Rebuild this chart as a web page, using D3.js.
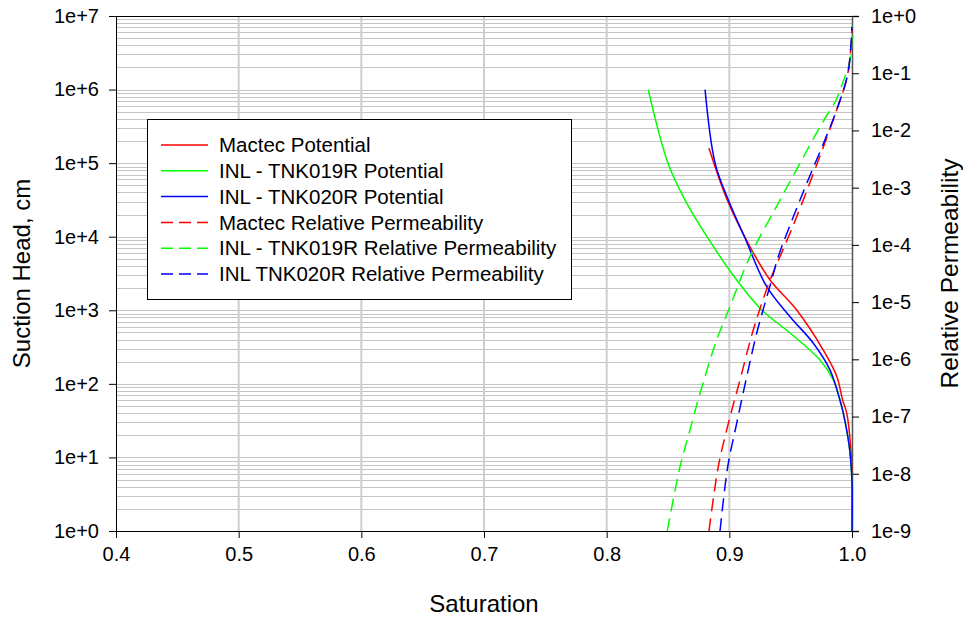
<!DOCTYPE html>
<html>
<head>
<meta charset="utf-8">
<script src="https://cdn.jsdelivr.net/npm/d3@7"></script>
<style>
  html, body { margin: 0; padding: 0; background: #fff; }
  svg { display: block; font-family: "Liberation Sans", Arial, sans-serif; }
</style>
</head>
<body>
<svg id="chart" width="963" height="619"></svg>
<script>
// ---------------- data ----------------
const xTicks = [0.4, 0.5, 0.6, 0.7, 0.8, 0.9, 1.0];
const leftTicks = [1e0, 1e1, 1e2, 1e3, 1e4, 1e5, 1e6, 1e7];
const leftTickLabels = ["1e+0", "1e+1", "1e+2", "1e+3", "1e+4", "1e+5", "1e+6", "1e+7"];
const rightTicks = [1e-9, 1e-8, 1e-7, 1e-6, 1e-5, 1e-4, 1e-3, 1e-2, 1e-1, 1e0];
const rightTickLabels = ["1e-9", "1e-8", "1e-7", "1e-6", "1e-5", "1e-4", "1e-3", "1e-2", "1e-1", "1e+0"];

// Suction head (cm) vs saturation
const mactecPotS = [0.8834, 0.8983, 0.9168, 0.9332, 0.9549, 0.9766, 0.9875, 0.9924, 0.9957, 0.9989, 0.99995, 1.0];
const mactecPotH = [1.59e5, 3.15e4, 7310, 2580, 1010, 288, 128, 60, 40, 14, 4.9, 1];

const tnk019PotS = [0.8339, 0.8500, 0.8639, 0.8818, 0.9060, 0.9264, 0.9495, 0.9739, 0.9848, 0.9902, 0.9929, 0.9978, 0.99995, 1.0];
const tnk019PotH = [1e6, 1e5, 3.15e4, 1e4, 2580, 1010, 491, 211, 113, 60, 40, 14, 4.9, 1];

const tnk020PotS = [0.8802, 0.8884, 0.8992, 0.9123, 0.9305, 0.9495, 0.9685, 0.9821, 0.9902, 0.9929, 0.9978, 0.99995, 1.0];
const tnk020PotH = [1e6, 1e5, 3.15e4, 1e4, 2090, 818, 356, 154, 60, 40, 14, 4.9, 1];

// Relative permeability vs saturation
const mactecKrS = [0.8834, 0.8910, 0.8992, 0.9087, 0.9195, 0.9332, 0.9413, 0.9549, 0.9875, 0.9967, 1.0];
const mactecKr  = [1e-9, 1.33e-8, 7.62e-8, 4.36e-7, 3.26e-6, 2.43e-5, 6.22e-5, 3.10e-4, 2.28e-2, 0.101, 0.646];

const tnk019KrS = [0.8494, 0.8598, 0.8679, 0.8761, 0.8897, 0.9005, 0.9168, 0.9413, 0.9576, 0.9739, 0.9870, 0.9902, 0.9984, 1.0];
const tnk019Kr  = [1e-9, 1.33e-8, 5.82e-8, 2.55e-7, 2.18e-6, 8.32e-6, 6.22e-5, 6.08e-4, 2.66e-3, 1.16e-2, 3.40e-2, 5.09e-2, 0.170, 0.676];

const tnk020KrS = [0.8924, 0.8987, 0.9060, 0.9136, 0.9223, 0.9345, 0.9399, 0.9576, 0.9875, 0.9967, 1.0];
const tnk020Kr  = [1e-9, 1.33e-8, 7.62e-8, 4.36e-7, 2.85e-6, 2.43e-5, 6.22e-5, 6.08e-4, 2.28e-2, 0.101, 0.646];

const seriesNames = [
  "Mactec Potential",
  "INL - TNK019R Potential",
  "INL - TNK020R Potential",
  "Mactec Relative Permeability",
  "INL - TNK019R Relative Permeability",
  "INL TNK020R Relative Permeability"
];
const seriesColors = ["#ff0000", "#00ff00", "#0000ff", "#ff0000", "#00ff00", "#0000ff"];

// ---------------- layout ----------------
const svg = d3.select("#chart");
const M = { left: 116, top: 16, right: 852, bottom: 531 };
const W = M.right - M.left, H = M.bottom - M.top;

const x = d3.scaleLinear().domain([0.4, 1.0]).range([M.left, M.right]);
const yL = d3.scaleLog().domain([1, 1e7]).range([M.bottom, M.top]);
const yR = d3.scaleLog().domain([1e-9, 1]).range([M.bottom, M.top]);

// horizontal grid (left axis decades + minor)
const gridVals = [];
for (let e = 0; e < 7; e++) for (let k = 1; k <= 9; k++) gridVals.push(k * Math.pow(10, e));
svg.append("g").selectAll("line").data(gridVals.filter(v => v > 1 && v < 1e7)).join("line")
  .attr("x1", M.left).attr("x2", M.right)
  .attr("y1", d => Math.round(yL(d)) + 0.5).attr("y2", d => Math.round(yL(d)) + 0.5)
  .attr("stroke", "#c4c4c4").attr("stroke-width", 1);

// vertical grid
svg.append("g").selectAll("line").data(xTicks.filter(v => v > 0.4 && v < 1.0)).join("line")
  .attr("x1", d => x(d)).attr("x2", d => x(d))
  .attr("y1", M.top).attr("y2", M.bottom)
  .attr("stroke", "#cfcfcf").attr("stroke-width", 2);

// axes
const fs = 20;
const ff = "Liberation Sans, Arial, sans-serif";
const xAxis = d3.axisBottom(x).tickValues(xTicks).tickFormat(d3.format(".1f")).tickSizeOuter(0).tickSize(7).tickPadding(9);
const gx = svg.append("g").attr("transform", `translate(0,${M.bottom})`).call(xAxis);
gx.selectAll("text").attr("font-size", fs).attr("fill", "#000").attr("font-family", ff);

const lAxis = d3.axisLeft(yL).tickValues(leftTicks).tickFormat((d, i) => leftTickLabels[i]).tickSizeOuter(0).tickSize(7).tickPadding(10);
const gl = svg.append("g").attr("transform", `translate(${M.left},0)`).call(lAxis);
gl.selectAll("text").attr("font-size", fs).attr("fill", "#000").attr("font-family", ff);

const rAxis = d3.axisRight(yR).tickValues(rightTicks).tickFormat((d, i) => rightTickLabels[i]).tickSizeOuter(0).tickSize(7).tickPadding(12);
const gr = svg.append("g").attr("transform", `translate(${M.right},0)`).call(rAxis);
gr.selectAll("text").attr("font-size", fs).attr("fill", "#000").attr("font-family", ff);
gr.select(".domain").attr("stroke", "#555").attr("stroke-width", 1.5);

// top border
svg.append("line").attr("x1", M.left).attr("x2", M.right).attr("y1", M.top + 0.5).attr("y2", M.top + 0.5)
  .attr("stroke", "#000").attr("stroke-width", 1);

// curves
svg.append("defs").append("clipPath").attr("id", "clip")
  .append("rect").attr("x", M.left).attr("y", M.top).attr("width", W + 1).attr("height", H);

const plot = svg.append("g").attr("clip-path", "url(#clip)");
const lineGen = d3.line().curve(d3.curveCatmullRom.alpha(0.5));

const potSeries = [
  [mactecPotS, mactecPotH],
  [tnk019PotS, tnk019PotH],
  [tnk020PotS, tnk020PotH]
];
const krSeries = [
  [mactecKrS, mactecKr],
  [tnk019KrS, tnk019Kr],
  [tnk020KrS, tnk020Kr]
];
potSeries.forEach((s, i) => {
  const pts = s[0].map((v, j) => [x(v), yL(s[1][j])]);
  plot.append("path").attr("d", lineGen(pts)).attr("fill", "none")
    .attr("stroke", seriesColors[i]).attr("stroke-width", 1.5);
});
krSeries.forEach((s, i) => {
  const pts = s[0].map((v, j) => [x(v), yR(s[1][j])]);
  plot.append("path").attr("d", lineGen(pts)).attr("fill", "none")
    .attr("stroke", seriesColors[i + 3]).attr("stroke-width", 1.5)
    .attr("stroke-dasharray", "13,7");
});

// legend
const lg = svg.append("g");
lg.append("rect").attr("x", 147.5).attr("y", 119.5).attr("width", 424).attr("height", 180)
  .attr("fill", "#fff").attr("stroke", "#000").attr("stroke-width", 1);
seriesNames.forEach((name, i) => {
  const cy = 145 + i * 25.8;
  lg.append("line").attr("x1", 161).attr("x2", 208).attr("y1", cy).attr("y2", cy)
    .attr("stroke", seriesColors[i]).attr("stroke-width", 1.5)
    .attr("stroke-dasharray", i >= 3 ? "12,6" : null);
  lg.append("text").attr("x", 219).attr("y", cy).attr("dy", "0.35em")
    .attr("font-size", 20.5).attr("fill", "#000").text(name);
});

// axis titles
svg.append("text").attr("x", (M.left + M.right) / 2).attr("y", 604).attr("dy", "0.35em")
  .attr("text-anchor", "middle").attr("font-size", 24).text("Saturation");
svg.append("text").attr("transform", `translate(22,${(M.top + M.bottom) / 2}) rotate(-90)`)
  .attr("dy", "0.35em").attr("text-anchor", "middle").attr("font-size", 24).text("Suction Head, cm");
svg.append("text").attr("transform", `translate(949,${(M.top + M.bottom) / 2}) rotate(-90)`)
  .attr("dy", "0.35em").attr("text-anchor", "middle").attr("font-size", 24.5).text("Relative Permeability");
</script>
</body>
</html>
